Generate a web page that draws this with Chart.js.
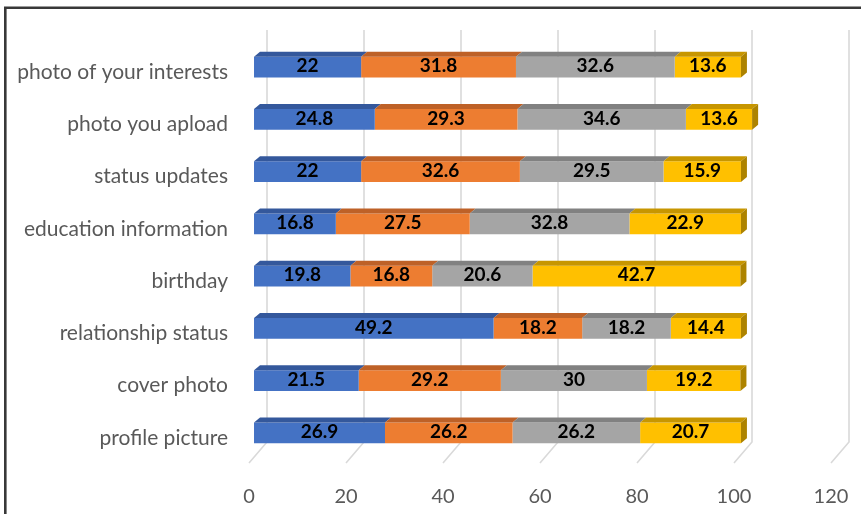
<!DOCTYPE html>
<html>
<head>
<meta charset="utf-8">
<script src="https://cdn.jsdelivr.net/npm/chart.js@4/dist/chart.umd.min.js"></script>
<style>
  html, body { margin: 0; padding: 0; background: #ffffff; }
  #wrap { width: 861px; height: 514px; position: relative; }
</style>
</head>
<body>
<div id="wrap"><canvas id="chart" width="861" height="514"></canvas></div>
<script>
// Profile items, listed top to bottom
const categories = [
  'photo of your interests',
  'photo you apload',
  'status updates',
  'education information',
  'birthday',
  'relationship status',
  'cover photo',
  'profile picture'
];

// Stacked shares per item
const series1 = [22, 24.8, 22, 16.8, 19.8, 49.2, 21.5, 26.9];
const series2 = [31.8, 29.3, 32.6, 27.5, 16.8, 18.2, 29.2, 26.2];
const series3 = [32.6, 34.6, 29.5, 32.8, 20.6, 18.2, 30, 26.2];
const series4 = [13.6, 13.6, 15.9, 22.9, 42.7, 14.4, 19.2, 20.7];

// Value axis tick labels
const tickLabels = ['0', '20', '40', '60', '80', '100', '120'];

// Front, top and side face colours for each series
const frontColors = ['#4472C4', '#ED7D31', '#A5A5A5', '#FFC000'];
const topColors   = ['#34589C', '#BE6127', '#818181', '#C79600'];
const sideColors  = ['#2E4E8A', '#A85522', '#727272', '#AD8300'];

const FONT = 'Lato';

// Depth of the 3D walls/floor and of the bars themselves
const WALL_DX = 18, WALL_TOP_RISE = 11, WALL_FLOOR_DROP = 4, WALL_DY = 21;
const BAR_DX = 6, BAR_DY = 5;

const frameAndGrid = {
  id: 'frameAndGrid',
  beforeDatasetsDraw(chart) {
    const ctx = chart.ctx;
    const area = chart.chartArea;
    const xs = chart.scales.x;
    ctx.save();
    // outer frame
    ctx.strokeStyle = '#383838';
    ctx.lineWidth = 2.6;
    ctx.beginPath();
    ctx.moveTo(5.3, 600);
    ctx.lineTo(5.3, 7.8);
    ctx.lineTo(900, 7.8);
    ctx.stroke();

    // back-wall gridlines with their floor segments
    ctx.strokeStyle = '#D9D9D9';
    ctx.lineWidth = 1.6;
    const floorFrontY = area.bottom + WALL_FLOOR_DROP;
    const floorBackY = floorFrontY - WALL_DY;
    const topY = area.top - WALL_TOP_RISE;
    xs.ticks.forEach(t => {
      const fx = xs.getPixelForValue(t.value);
      const bx = fx + WALL_DX;
      ctx.beginPath();
      ctx.moveTo(bx, topY);
      ctx.lineTo(bx, floorBackY);
      ctx.lineTo(fx, floorFrontY);
      ctx.stroke();
    });
    ctx.restore();
  }
};

const barFacesAndLabels = {
  id: 'barFacesAndLabels',
  afterDatasetsDraw(chart) {
    const ctx = chart.ctx;
    const n = chart.data.datasets.length;
    ctx.save();
    // top faces and the closing side face
    for (let d = 0; d < n; d++) {
      const meta = chart.getDatasetMeta(d);
      meta.data.forEach(el => {
        const p = el.getProps(['x', 'y', 'base', 'height'], true);
        const left = Math.min(p.base, p.x), right = Math.max(p.base, p.x);
        const top = p.y - p.height / 2, bottom = p.y + p.height / 2;
        ctx.fillStyle = topColors[d];
        ctx.beginPath();
        ctx.moveTo(left, top);
        ctx.lineTo(right, top);
        ctx.lineTo(right + BAR_DX, top - BAR_DY);
        ctx.lineTo(left + BAR_DX, top - BAR_DY);
        ctx.closePath();
        ctx.fill();
        if (d === n - 1) {
          ctx.fillStyle = sideColors[d];
          ctx.beginPath();
          ctx.moveTo(right, top);
          ctx.lineTo(right + BAR_DX, top - BAR_DY);
          ctx.lineTo(right + BAR_DX, bottom - BAR_DY);
          ctx.lineTo(right, bottom);
          ctx.closePath();
          ctx.fill();
        }
      });
    }
    // value labels
    ctx.fillStyle = '#000000';
    ctx.font = 'bold 19px ' + FONT;
    ctx.textAlign = 'center';
    ctx.textBaseline = 'middle';
    for (let d = 0; d < n; d++) {
      const meta = chart.getDatasetMeta(d);
      const values = chart.data.datasets[d].data;
      meta.data.forEach((el, i) => {
        const p = el.getProps(['x', 'y', 'base'], true);
        ctx.fillText(String(values[i]), (p.x + p.base) / 2, p.y - 1);
      });
    }
    ctx.restore();
  }
};

const allSeries = [series1, series2, series3, series4];

new Chart(document.getElementById('chart'), {
  type: 'bar',
  data: {
    labels: categories,
    datasets: allSeries.map((vals, i) => ({
      label: 'Series' + (i + 1),
      data: vals,
      xAxisID: 'xb',
      backgroundColor: frontColors[i],
      borderWidth: 0,
      barPercentage: 0.4,
      categoryPercentage: 1
    }))
  },
  options: {
    indexAxis: 'y',
    responsive: false,
    animation: false,
    devicePixelRatio: 1,
    layout: { padding: { top: 41, right: 30, bottom: 0, left: 0 } },
    plugins: {
      legend: { display: false },
      tooltip: { enabled: false }
    },
    scales: {
      y: {
        type: 'category',
        position: 'left',
        stacked: true,
        grid: { display: false, drawTicks: false },
        border: { display: false },
        ticks: {
          color: '#595959',
          font: { family: FONT, size: 21 },
          padding: 21,
          labelOffset: 5
        },
        afterFit(s) { s.width = 249; s.paddingTop = 0; s.paddingBottom = 0; }
      },
      x: {
        type: 'linear',
        position: 'bottom',
        min: 0,
        max: 120,
        grid: { display: false, drawTicks: false },
        border: { display: false },
        ticks: {
          stepSize: 20,
          color: '#595959',
          font: { family: FONT, size: 20 },
          padding: 26,
          maxRotation: 0,
          callback: (v, i) => tickLabels[i]
        },
        afterFit(s) { s.height = 55; s.paddingLeft = 0; s.paddingRight = 0; }
      },
      xb: {
        type: 'linear',
        position: 'bottom',
        display: false,
        stacked: true,
        min: -1.03,
        max: 118.5
      }
    }
  },
  plugins: [frameAndGrid, barFacesAndLabels]
});
</script>
</body>
</html>
